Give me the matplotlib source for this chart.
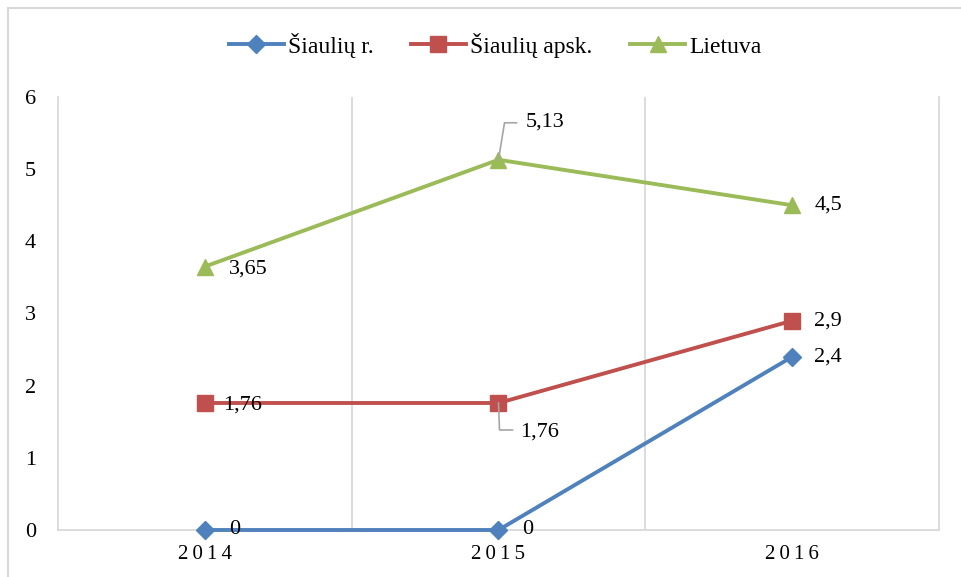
import matplotlib
matplotlib.use("Agg")
import matplotlib.pyplot as plt
from matplotlib.patches import Rectangle

years = ["2014", "2015", "2016"]
siauliu_r = [0, 0, 2.4]
siauliu_apsk = [1.76, 1.76, 2.9]
lietuva = [3.65, 5.13, 4.5]
labels_r = ["0", "0", "2,4"]
labels_apsk = ["1,76", "1,76", "2,9"]
labels_lt = ["3,65", "5,13", "4,5"]
y_ticks = [0, 1, 2, 3, 4, 5, 6]

plt.rcParams['font.family'] = ['Liberation Serif', 'DejaVu Serif']

fig = plt.figure(figsize=(9.61, 5.77), dpi=100)
W, H = 961, 577
# chart area border
fig.patches.append(Rectangle((8 / W, -0.1), 1.2, (577 - 8) / H + 0.1, transform=fig.transFigure,
                             fill=False, edgecolor="#d9d9d9", linewidth=1.5, zorder=0))

ax = fig.add_axes([58 / W, (H - 530) / H, (939 - 58) / W, (530 - 97) / H])
x = list(range(len(years)))

blue, red, green = "#4F81BD", "#C0504D", "#9BBB59"
ax.plot(x, siauliu_r, color=blue, lw=2.8, marker="D", ms=9, label="Šiaulių r.", zorder=4, clip_on=False)
ax.plot(x, siauliu_apsk, color=red, lw=2.8, marker="s", ms=11, label="Šiaulių apsk.", zorder=3, clip_on=False)
ax.plot(x, lietuva, color=green, lw=2.8, marker="^", ms=12, label="Lietuva", zorder=3, clip_on=False)

ax.set_xlim(-0.5, 2.5)
ax.set_ylim(0, 6)
ax.set_xticks(x)
ax.set_xticklabels(["\u2009".join(y) for y in years], fontsize=15)
ax.set_yticks(y_ticks)
ax.set_yticklabels([str(v) for v in y_ticks], fontsize=16)
ax.tick_params(axis="y", length=0, pad=16)
ax.tick_params(axis="x", length=0, pad=11)
for xv in [0.5, 1.5]:
    ax.axvline(xv, color="#d9d9d9", lw=1.3, zorder=1)
for s in ["left", "right", "bottom"]:
    ax.spines[s].set_color("#d9d9d9")
    ax.spines[s].set_linewidth(1.3)
ax.spines["top"].set_visible(False)

fs = 16
def lab(xi, yi, text, dx, dy, ha="left"):
    ax.annotate(text, (xi, yi), xytext=(dx, dy), textcoords="offset pixels",
                ha=ha, va="center", fontsize=fs, zorder=6)

# blue labels
lab(0, siauliu_r[0], labels_r[0], 24, 0)
lab(1, siauliu_r[1], labels_r[1], 24, 0)
lab(2, siauliu_r[2], labels_r[2], 22, 0)
# red labels
lab(0, siauliu_apsk[0], labels_apsk[0], 18, -2)
lab(2, siauliu_apsk[2], labels_apsk[2], 22, 0)
# green labels
lab(0, lietuva[0], labels_lt[0], 24, -2)
lab(2, lietuva[2], labels_lt[2], 22, 0)
# leader-line labels
lab(1, lietuva[1], labels_lt[1], 27, 38)
lab(1, siauliu_apsk[1], labels_apsk[1], 22, -29)

tr = ax.transData
def leader(xi, yi, pts):
    px, py = tr.transform((xi, yi))
    inv = tr.inverted()
    data = [inv.transform((px + a, py + b)) for a, b in pts]
    ax.plot([d[0] for d in data], [d[1] for d in data], color="#a6a6a6", lw=1.2, zorder=5, clip_on=False)

fig.canvas.draw()
leader(1, lietuva[1], [(0, 0), (6, 37), (18, 37)])
leader(1, siauliu_apsk[1], [(0, 0), (1, -27), (14, -27)])

leg = fig.legend(loc="center", bbox_to_anchor=(0.515, 0.922), ncol=3, frameon=False,
                 fontsize=17, handlelength=2.33, columnspacing=1.6, handletextpad=0.17)

fig.savefig("out.png", dpi=100)
